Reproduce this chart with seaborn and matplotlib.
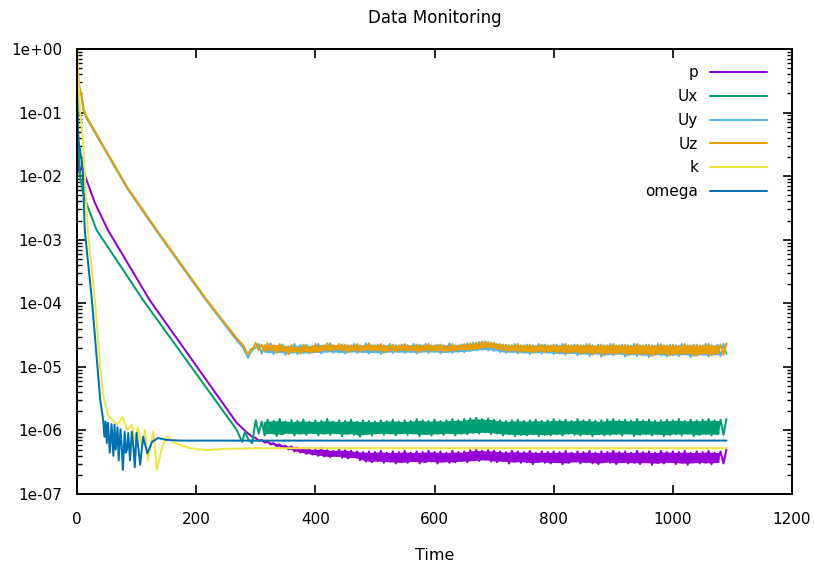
import numpy as np
import pandas as pd
import seaborn as sns
import matplotlib
matplotlib.use("Agg")
import matplotlib.pyplot as plt
from matplotlib.ticker import LogLocator, FixedLocator, FuncFormatter, NullLocator
from matplotlib.lines import Line2D

FIELDS = ["p", "Ux", "Uy", "Uz", "k", "omega"]
COLORS = ["#9400d3", "#009e73", "#56b4e9", "#e69f00", "#f0e442", "#0072b2"]

X_TICKS = [0, 200, 400, 600, 800, 1000, 1200]
Y_TICKS = [1e-7, 1e-6, 1e-5, 1e-4, 1e-3, 1e-2, 1e-1, 1e0]

# ---- start-up transients: time and log10(residual) ----
p_head_t = [0, 1, 2, 4, 8, 16, 30, 52, 122, 268, 285, 294]
p_head_log = [-1.30, -1.90, -1.50, -1.95, -1.85, -2.06, -2.42, -2.85, -3.95, -5.88, -6.03, -6.10]

ux_head_t = [0, 2, 5, 10, 18, 33, 111, 268, 277, 282, 288, 294]
ux_head_log = [-0.70, -1.30, -2.00, -2.25, -2.48, -2.85, -3.95, -5.99, -6.18, -6.02, -6.15, -6.20]

uy_head_t = [0, 2, 4, 8, 11, 15, 84, 134, 218, 268, 279, 287, 292, 296]
uy_head_log = [-0.05, -0.50, -0.62, -0.77, -0.97, -1.07, -2.19, -2.87, -3.97, -4.58, -4.70, -4.86, -4.76, -4.72]

uz_head_t = [0, 2, 4, 8, 11, 15, 84, 134, 218, 268, 279, 287, 292, 296]
uz_head_log = [-0.03, -0.45, -0.60, -0.75, -0.95, -1.05, -2.17, -2.85, -3.95, -4.55, -4.66, -4.81, -4.72, -4.70]

k_t = [0, 2, 5, 10, 18, 30, 39, 44, 52, 60, 67, 77, 84, 92, 97, 102, 109, 114,
       119, 128, 134, 143, 151, 161, 173, 190, 218, 250, 300, 1090]
k_log = [0.00, -0.40, -0.96, -1.43, -2.85, -3.95, -5.00, -5.45, -5.76, -5.84, -5.91,
         -5.79, -5.99, -5.91, -6.18, -5.95, -6.26, -5.99, -6.47, -6.02, -6.62, -6.26,
         -6.10, -6.18, -6.23, -6.28, -6.31, -6.29, -6.28, -6.28]

omega_t = [0, 1, 2, 8, 10, 13, 25, 39, 44, 46, 48, 50, 52, 55, 58, 61, 63, 65, 68, 70, 73,
           75, 77, 80, 82, 84, 86, 89, 92, 95, 97, 100, 103, 106, 111, 118, 126, 136, 151,
           173, 300, 1090]
omega_log = [-0.65, -1.07, -1.43, -1.75, -2.00, -2.85, -3.95, -5.52, -5.84, -6.10, -5.86,
             -6.20, -5.88, -6.35, -5.90, -6.40, -5.91, -6.30, -5.95, -6.47, -5.98, -6.25,
             -6.62, -6.02, -6.35, -6.30, -6.04, -6.47, -6.02, -6.30, -6.58, -6.04, -6.28,
             -6.54, -6.10, -6.36, -6.18, -6.12, -6.15, -6.16, -6.16, -6.16]

# ---- quasi-steady phase, sampled every 5 time units from 300 to 1090 ----
tail_t = np.arange(300, 1091, 5)

p_tail_log = [
    -6.12, -6.16, -6.15, -6.19, -6.18, -6.22, -6.20, -6.25, -6.22, -6.27,
    -6.24, -6.30, -6.25, -6.33, -6.27, -6.35, -6.28, -6.37, -6.29, -6.38,
    -6.30, -6.40, -6.28, -6.41, -6.31, -6.42, -6.32, -6.40, -6.30, -6.43,
    -6.31, -6.44, -6.32, -6.42, -6.33, -6.47, -6.34, -6.49, -6.33, -6.50,
    -6.34, -6.48, -6.32, -6.51, -6.35, -6.49, -6.33, -6.52, -6.34, -6.50,
    -6.32, -6.51, -6.35, -6.48, -6.33, -6.52, -6.34, -6.50, -6.32, -6.49,
    -6.34, -6.52, -6.33, -6.49, -6.35, -6.51, -6.32, -6.50, -6.34, -6.48,
    -6.33, -6.50, -6.31, -6.47, -6.30, -6.48, -6.32, -6.46, -6.31, -6.49,
    -6.32, -6.50, -6.33, -6.48, -6.34, -6.52, -6.32, -6.49, -6.33, -6.51,
    -6.34, -6.50, -6.32, -6.53, -6.35, -6.49, -6.33, -6.51, -6.34, -6.52,
    -6.33, -6.50, -6.34, -6.53, -6.32, -6.51, -6.35, -6.49, -6.33, -6.52,
    -6.34, -6.50, -6.32, -6.52, -6.35, -6.53, -6.33, -6.50, -6.34, -6.51,
    -6.32, -6.53, -6.34, -6.50, -6.33, -6.52, -6.35, -6.51, -6.32, -6.53,
    -6.34, -6.50, -6.33, -6.54, -6.35, -6.51, -6.32, -6.52, -6.34, -6.50,
    -6.33, -6.53, -6.34, -6.51, -6.32, -6.54, -6.35, -6.50, -6.33, -6.52,
    -6.34, -6.51, -6.32, -6.53, -6.35, -6.50, -6.33, -6.52, -6.30,
]

ux_tail_log = [
    -5.84, -6.05, -5.86, -6.08, -5.83, -6.04, -5.85, -6.09, -5.82, -6.06,
    -5.86, -6.04, -5.84, -6.08, -5.85, -6.05, -5.83, -6.07, -5.86, -6.04,
    -5.84, -6.08, -5.85, -6.05, -5.82, -6.07, -5.86, -6.04, -5.84, -6.09,
    -5.85, -6.05, -5.83, -6.07, -5.86, -6.10, -5.84, -6.05, -5.85, -6.08,
    -5.86, -6.04, -5.84, -6.07, -5.85, -6.05, -5.83, -6.08, -5.86, -6.04,
    -5.84, -6.07, -5.85, -6.05, -5.82, -6.09, -5.84, -6.06, -5.85, -6.08,
    -5.83, -6.05, -5.85, -6.07, -5.84, -6.04, -5.82, -6.08, -5.84, -6.05,
    -5.82, -6.06, -5.81, -6.04, -5.80, -6.05, -5.82, -6.03, -5.81, -6.06,
    -5.83, -6.05, -5.84, -6.08, -5.85, -6.06, -5.84, -6.09, -5.83, -6.07,
    -5.85, -6.08, -5.84, -6.06, -5.83, -6.09, -5.85, -6.07, -5.84, -6.08,
    -5.82, -6.06, -5.84, -6.08, -5.83, -6.05, -5.85, -6.07, -5.82, -6.08,
    -5.84, -6.06, -5.83, -6.09, -5.85, -6.06, -5.84, -6.08, -5.83, -6.07,
    -5.82, -6.06, -5.84, -6.08, -5.83, -6.05, -5.85, -6.09, -5.82, -6.07,
    -5.84, -6.06, -5.83, -6.08, -5.85, -6.06, -5.84, -6.09, -5.83, -6.07,
    -5.84, -6.06, -5.82, -6.08, -5.85, -6.05, -5.83, -6.09, -5.84, -6.07,
    -5.83, -6.06, -5.82, -6.08, -5.84, -6.06, -5.83, -6.07, -5.82,
]

uy_tail_log = [
    -4.70, -4.64, -4.79, -4.66, -4.77, -4.63, -4.80, -4.67, -4.76, -4.65,
    -4.81, -4.68, -4.77, -4.64, -4.80, -4.66, -4.78, -4.65, -4.79, -4.67,
    -4.77, -4.64, -4.79, -4.66, -4.76, -4.63, -4.78, -4.67, -4.77, -4.65,
    -4.79, -4.66, -4.76, -4.64, -4.78, -4.66, -4.77, -4.63, -4.79, -4.66,
    -4.77, -4.65, -4.80, -4.66, -4.76, -4.64, -4.78, -4.66, -4.77, -4.65,
    -4.78, -4.66, -4.77, -4.64, -4.79, -4.65, -4.76, -4.64, -4.78, -4.66,
    -4.76, -4.65, -4.79, -4.66, -4.77, -4.63, -4.78, -4.66, -4.76, -4.65,
    -4.77, -4.63, -4.75, -4.62, -4.74, -4.61, -4.73, -4.60, -4.74, -4.62,
    -4.75, -4.64, -4.77, -4.65, -4.78, -4.66, -4.77, -4.64, -4.79, -4.66,
    -4.78, -4.65, -4.80, -4.66, -4.77, -4.64, -4.79, -4.65, -4.78, -4.66,
    -4.80, -4.65, -4.79, -4.64, -4.81, -4.66, -4.78, -4.65, -4.82, -4.66,
    -4.79, -4.64, -4.83, -4.66, -4.78, -4.65, -4.84, -4.66, -4.80, -4.64,
    -4.82, -4.66, -4.79, -4.65, -4.84, -4.66, -4.80, -4.64, -4.83, -4.66,
    -4.81, -4.65, -4.85, -4.66, -4.80, -4.64, -4.82, -4.66, -4.84, -4.65,
    -4.81, -4.66, -4.83, -4.64, -4.80, -4.66, -4.85, -4.65, -4.82, -4.66,
    -4.81, -4.64, -4.84, -4.66, -4.80, -4.65, -4.83, -4.64, -4.80,
]

uz_tail_log = [
    -4.62, -4.74, -4.65, -4.76, -4.63, -4.72, -4.66, -4.78, -4.64, -4.73,
    -4.68, -4.80, -4.66, -4.74, -4.70, -4.79, -4.65, -4.75, -4.69, -4.78,
    -4.64, -4.76, -4.67, -4.73, -4.63, -4.75, -4.66, -4.72, -4.64, -4.74,
    -4.65, -4.77, -4.66, -4.73, -4.64, -4.76, -4.67, -4.72, -4.63, -4.75,
    -4.66, -4.74, -4.64, -4.78, -4.67, -4.72, -4.65, -4.76, -4.66, -4.73,
    -4.64, -4.75, -4.67, -4.74, -4.65, -4.77, -4.66, -4.72, -4.64, -4.76,
    -4.66, -4.73, -4.65, -4.77, -4.67, -4.74, -4.64, -4.75, -4.66, -4.72,
    -4.64, -4.74, -4.63, -4.72, -4.62, -4.71, -4.60, -4.69, -4.61, -4.70,
    -4.62, -4.72, -4.64, -4.74, -4.65, -4.76, -4.66, -4.74, -4.64, -4.77,
    -4.66, -4.75, -4.65, -4.78, -4.67, -4.74, -4.65, -4.77, -4.66, -4.75,
    -4.65, -4.78, -4.67, -4.76, -4.64, -4.79, -4.66, -4.75, -4.65, -4.80,
    -4.66, -4.77, -4.64, -4.81, -4.67, -4.76, -4.65, -4.82, -4.66, -4.78,
    -4.64, -4.80, -4.66, -4.77, -4.65, -4.82, -4.67, -4.78, -4.64, -4.81,
    -4.66, -4.79, -4.65, -4.83, -4.67, -4.78, -4.64, -4.80, -4.66, -4.82,
    -4.65, -4.79, -4.67, -4.81, -4.64, -4.78, -4.66, -4.83, -4.65, -4.80,
    -4.66, -4.79, -4.64, -4.82, -4.67, -4.78, -4.65, -4.81, -4.63,
]

series = {
    "p": (list(p_head_t) + list(tail_t), p_head_log + p_tail_log),
    "Ux": (list(ux_head_t) + list(tail_t), ux_head_log + ux_tail_log),
    "Uy": (list(uy_head_t) + list(tail_t), uy_head_log + uy_tail_log),
    "Uz": (list(uz_head_t) + list(tail_t), uz_head_log + uz_tail_log),
    "k": (k_t, k_log),
    "omega": (omega_t, omega_log),
}
tails = {"p": p_tail_log, "Ux": ux_tail_log, "Uy": uy_tail_log, "Uz": uz_tail_log}

frames = []
for name in FIELDS:
    t, lg = series[name]
    frames.append(pd.DataFrame({"Time": np.asarray(t, float),
                                "Residual": 10.0 ** np.asarray(lg, float),
                                "Field": name}))
df = pd.concat(frames, ignore_index=True)

sns.set_style("white")
plt.rcParams["font.family"] = ["DejaVu Sans"]
plt.rcParams["font.size"] = 11
for key in ("text.color", "axes.labelcolor", "xtick.color", "ytick.color"):
    plt.rcParams[key] = "black"

W, H = 814, 568
fig = plt.figure(figsize=(W / 100, H / 100), dpi=100)
L, R, T, B = 77, 792, 49, 494
ax = fig.add_axes([L / W, 1 - B / H, (R - L) / W, (B - T) / H])

sns.lineplot(data=df, x="Time", y="Residual", hue="Field", hue_order=FIELDS,
             palette=COLORS, sort=False, estimator=None, linewidth=1.45,
             legend=False, ax=ax)
for i, line in enumerate(ax.lines):
    line.set_zorder(3 + i)


def dense_core(lg):
    """Inner envelope of a rapidly oscillating residual history (log10 units)."""
    v = np.asarray(lg, float)
    hi = np.maximum(v[:-1], v[1:])
    lo = np.minimum(v[:-1], v[1:])
    k = np.ones(4) / 4
    hi = np.convolve(hi, k, mode="same")
    lo = np.convolve(lo, k, mode="same")
    mid = (hi + lo) / 2
    return mid + 0.9 * (lo - mid), mid + 0.9 * (hi - mid)


tt = 0.5 * (tail_t[:-1] + tail_t[1:])
for i, name in enumerate(FIELDS):
    if name in tails:
        lo, hi = dense_core(tails[name])
        sl = slice(2, -2)
        ax.fill_between(tt[sl], 10.0 ** lo[sl], 10.0 ** hi[sl], color=COLORS[i],
                        linewidth=0, zorder=2.9 + i)

ax.set_yscale("log")
ax.set_xlim(0, 1200)
ax.set_ylim(1e-7, 1e0)
ax.xaxis.set_major_locator(FixedLocator(X_TICKS))
ax.xaxis.set_minor_locator(NullLocator())
ax.yaxis.set_major_locator(FixedLocator(Y_TICKS))
ax.yaxis.set_minor_locator(LogLocator(base=10, subs=np.arange(2, 10), numticks=20))
ax.yaxis.set_major_formatter(FuncFormatter(lambda v, _: f"{v:.0e}"))
ax.set_xlabel("")
ax.set_ylabel("")

for s in ax.spines.values():
    s.set_visible(True)
    s.set_linewidth(1.4)
    s.set_color("black")
    s.set_zorder(20)

ax.tick_params(axis="both", which="both", direction="in", colors="black",
               top=True, right=True, bottom=True, left=True)
ax.tick_params(axis="both", which="major", length=6.5, width=1.2, labelsize=11)
ax.tick_params(axis="y", which="minor", length=3.5, width=1.0)
ax.tick_params(axis="x", which="major", pad=13)
ax.tick_params(axis="y", which="major", pad=10.5)

handles = [Line2D([], [], color=c, lw=1.45) for c in COLORS]
ax.legend(handles, FIELDS, loc="upper right", bbox_to_anchor=((767 - L) / (R - L), 0.963),
          frameon=False, markerfirst=False, borderpad=0, borderaxespad=0,
          handlelength=3.7, handletextpad=0.8, labelspacing=0.57, fontsize=11)

fig.text((L + R) / 2 / W, 1 - 23 / H, "Data Monitoring", ha="center", va="baseline",
         fontsize=12, color="black")
fig.text((L + R) / 2 / W, 1 - 560 / H, "Time", ha="center", va="baseline",
         fontsize=11.5, color="black")

fig.savefig("out.png", dpi=100, facecolor="white")
